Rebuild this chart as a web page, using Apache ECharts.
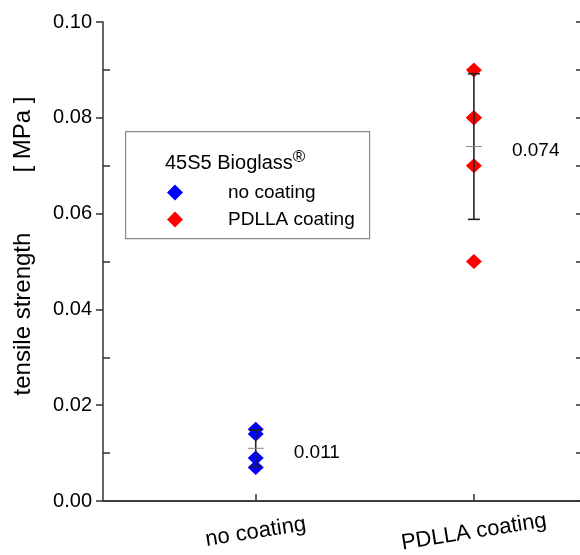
<!DOCTYPE html>
<html>
<head>
<meta charset="utf-8">
<script src="https://cdn.jsdelivr.net/npm/echarts@6/dist/echarts.min.js"></script>
<style>
html,body{margin:0;padding:0;background:#fff;}
#chart{width:580px;height:555px;}
</style>
</head>
<body>
<div id="chart"></div>
<script>
// ---- data ----
const categories = ['no coating', 'PDLLA coating'];
const categoryPositions = [1, 2];
const noCoating = [0.015, 0.014, 0.009, 0.007];
const pdllaCoating = [0.090, 0.080, 0.080, 0.070, 0.050];
const means = [0.011, 0.074];
const stdDevs = [0.0038, 0.0152];
const meanLabels = ['0.011', '0.074'];
const yMajorTicks = [0, 0.02, 0.04, 0.06, 0.08, 0.10];
const yMinorTicks = [0.01, 0.03, 0.05, 0.07, 0.09];
const legendTitle = '45S5 Bioglass';
const yAxisTitle = 'tensile strength         [ MPa ]';

const FONT = 'Liberation Sans, Arial, Helvetica, sans-serif';
const chart = echarts.init(document.getElementById('chart'), null, {renderer: 'canvas'});

const errorData = categoryPositions.map((x, i) => [x, means[i], stdDevs[i]]);

const option = {
  backgroundColor: '#fff',
  animation: false,
  textStyle: {fontFamily: FONT},
  grid: {left: 103, top: 22, width: 480, height: 479, containLabel: false, outerBoundsMode: 'none'},
  xAxis: [{
    type: 'value', min: 0.3, max: 2.5, position: 'bottom',
    axisLine: {show: true, lineStyle: {color: '#333', width: 1.5}},
    splitLine: {show: false},
    axisTick: {show: true, inside: true, length: 7, customValues: categoryPositions, lineStyle: {color: '#333', width: 1.5}},
    axisLabel: {
      show: true, customValues: categoryPositions, rotate: 9, align: 'center', verticalAlign: 'middle',
      margin: 31, fontSize: 22, color: '#000', fontFamily: FONT, hideOverlap: false,
      formatter: v => categories[categoryPositions.indexOf(Math.round(v))] || ''
    }
  }, {
    type: 'value', min: 0.3, max: 2.5, position: 'top',
    axisLine: {show: true, lineStyle: {color: '#333', width: 1.5}},
    axisTick: {show: false}, axisLabel: {show: false}, splitLine: {show: false}
  }],
  yAxis: [{
    type: 'value', min: 0, max: 0.1, interval: 0.02, position: 'left',
    name: yAxisTitle, nameLocation: 'middle', nameGap: 68,
    nameTextStyle: {fontSize: 24, color: '#000', fontFamily: FONT, padding: [0, 0, 0, 31]},
    axisLine: {show: true, lineStyle: {color: '#333', width: 1.5}},
    axisTick: {show: true, inside: false, length: 7, lineStyle: {color: '#333', width: 1.5}},
    axisLabel: {fontSize: 20, color: '#000', margin: 11, fontFamily: FONT, formatter: v => v.toFixed(2)},
    splitLine: {show: false}
  }, {
    type: 'value', min: 0, max: 0.1, position: 'left',
    axisLine: {show: false},
    axisTick: {show: true, inside: true, length: 7, customValues: yMinorTicks, lineStyle: {color: '#333', width: 1.5}},
    axisLabel: {show: false}, splitLine: {show: false}
  }, {
    type: 'value', min: 0, max: 0.1, position: 'right',
    axisLine: {show: true, lineStyle: {color: '#333', width: 1.5}},
    axisTick: {show: true, inside: true, length: 7, customValues: yMajorTicks.concat(yMinorTicks), lineStyle: {color: '#333', width: 1.5}},
    axisLabel: {show: false}, splitLine: {show: false}
  }],
  legend: {
    orient: 'vertical', left: 167, top: 183, itemWidth: 16, itemHeight: 16, itemGap: 8,
    icon: 'diamond', padding: 0,
    data: ['no coating', 'PDLLA coating'],
    textStyle: {fontSize: 19, color: '#000', fontFamily: FONT, padding: [0, 0, 0, 40]}
  },
  graphic: [{
    type: 'rect', left: 125, top: 131, z: 1,
    shape: {width: 244, height: 107},
    style: {fill: 'rgba(255,255,255,0)', stroke: '#888', lineWidth: 1.2}
  }, {
    type: 'text', left: 165, top: 149, z: 10,
    style: {
      text: legendTitle + '{sup|®}',
      font: '20px ' + FONT, fill: '#000',
      rich: {sup: {fontSize: 17, verticalAlign: 'top', padding: [0, 0, 12, 0], fill: '#000'}}
    }
  }],
  series: [{
    name: 'no coating', type: 'scatter', symbol: 'diamond', symbolSize: [16, 15],
    itemStyle: {color: '#0000ff', opacity: 1},
    data: noCoating.map(v => [categoryPositions[0], v]), z: 3
  }, {
    name: 'PDLLA coating', type: 'scatter', symbol: 'diamond', symbolSize: [16, 15],
    itemStyle: {color: '#ff0000', opacity: 1},
    data: pdllaCoating.map(v => [categoryPositions[1], v]), z: 3
  }, {
    name: 'errors', type: 'custom', z: 5, silent: true,
    data: errorData,
    renderItem: function (params, api) {
      const x = api.value(0), m = api.value(1), s = api.value(2);
      const top = api.coord([x, m + s]);
      const bot = api.coord([x, m - s]);
      const mid = api.coord([x, m]);
      const cap = 6, mw = 8;
      const ls = {stroke: '#222', lineWidth: 1.6};
      return {
        type: 'group',
        children: [
          {type: 'line', shape: {x1: top[0], y1: top[1], x2: bot[0], y2: bot[1]}, style: ls},
          {type: 'line', shape: {x1: top[0] - cap, y1: top[1], x2: top[0] + cap, y2: top[1]}, style: ls},
          {type: 'line', shape: {x1: bot[0] - cap, y1: bot[1], x2: bot[0] + cap, y2: bot[1]}, style: ls},
          {type: 'line', shape: {x1: mid[0] - mw, y1: mid[1], x2: mid[0] + mw, y2: mid[1]}, style: {stroke: '#888', lineWidth: 1}},
          {type: 'text', x: mid[0] + 38, y: mid[1] + 4, style: {text: meanLabels[params.dataIndex], font: '19px ' + FONT, fill: '#000', verticalAlign: 'middle', align: 'left'}}
        ]
      };
    }
  }]
};
chart.setOption(option);
</script>
</body>
</html>
